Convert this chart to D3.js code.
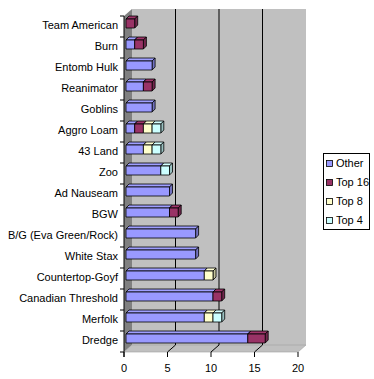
<!DOCTYPE html>
<html>
<head>
<meta charset="utf-8">
<script src="https://cdn.jsdelivr.net/npm/d3@7"></script>
<style>
  body { margin: 0; background: #fff; }
  svg text { font-family: "Liberation Sans", Arial, sans-serif; font-size: 11px; fill: #000; }
</style>
</head>
<body>
<div id="chart"></div>
<script>
// categories top to bottom
var categories = ["Team American", "Burn", "Entomb Hulk", "Reanimator", "Goblins", "Aggro Loam",
    "43 Land", "Zoo", "Ad Nauseam", "BGW", "B/G (Eva Green/Rock)", "White Stax",
    "Countertop-Goyf", "Canadian Threshold", "Merfolk", "Dredge"];
var seriesNames = ["Other", "Top 16", "Top 8", "Top 4"];
var otherVals = [0, 1, 3, 2, 3, 1, 2, 4, 5, 5, 8, 8, 9, 10, 9, 14];
var top16Vals = [1, 1, 0, 1, 0, 1, 0, 0, 0, 1, 0, 0, 0, 1, 0, 2];
var top8Vals  = [0, 0, 0, 0, 0, 1, 1, 0, 0, 0, 0, 0, 1, 0, 1, 0];
var top4Vals  = [0, 0, 0, 0, 0, 1, 1, 1, 0, 0, 0, 0, 0, 0, 1, 0];
var xTicks = [0, 5, 10, 15, 20];
var colors = ["#9999ff", "#993366", "#ffffcc", "#ccffff"];

var width = 374, height = 379;
var DX = 8, DY = -7;          // wall depth
var BX = 2, BY = -3, BD = 3;  // bar position inside depth, bar depth

var svg = d3.select("#chart").append("svg")
    .attr("width", width).attr("height", height);

var x = d3.scaleLinear().domain([0, 20]).range([124, 298]);
var y = d3.scaleBand().domain(categories).range([16, 352]).padding(0);

var rows = categories.map(function (c, i) {
    return { cat: c, Other: otherVals[i], "Top 16": top16Vals[i], "Top 8": top8Vals[i], "Top 4": top4Vals[i] };
});
var stacked = d3.stack().keys(seriesNames)(rows);

function poly(pts) { return "M" + pts.map(function (p) { return p.join(","); }).join("L") + "Z"; }

var y0 = y.range()[0], y1 = y.range()[1];
var xa = x(0), xb = x(20);

// back wall
svg.append("path")
    .attr("d", poly([[xa + DX, y0 + DY], [xb + DX, y0 + DY], [xb + DX, y1 + DY], [xa + DX, y1 + DY]]))
    .attr("fill", "#c0c0c0");
// side wall
svg.append("path")
    .attr("d", poly([[xa, y0], [xa + DX, y0 + DY], [xa + DX, y1 + DY], [xa, y1]]))
    .attr("fill", "#808080");
// floor
svg.append("path")
    .attr("d", poly([[xa, y1], [xa + DX, y1 + DY], [xb + DX, y1 + DY], [xb, y1]]))
    .attr("fill", "#c0c0c0")
    .attr("stroke", "#a0a0a0").attr("stroke-width", 0.6);

// gridlines
var grid = svg.append("g");
xTicks.filter(function (d) { return d > 0 && d < 20; }).forEach(function (d) {
    grid.append("path")
        .attr("d", "M" + (x(d) + DX) + "," + (y0 + DY) + "V" + (y1 + DY) + "L" + x(d) + "," + y1)
        .attr("fill", "none").attr("stroke", "#000").attr("stroke-width", 1);
});

// left axis
var ax = svg.append("g");
ax.append("line").attr("x1", xa).attr("x2", xa).attr("y1", y0).attr("y2", y1 + 5)
    .attr("stroke", "#000");
ax.selectAll(".ytick").data(d3.range(categories.length + 1)).enter().append("line")
    .attr("x1", xa - 4).attr("x2", xa)
    .attr("y1", function (i) { return y0 + i * y.bandwidth(); })
    .attr("y2", function (i) { return y0 + i * y.bandwidth(); })
    .attr("stroke", "#000");
ax.selectAll(".ylab").data(categories).enter().append("text")
    .attr("x", 118)
    .attr("y", function (d) { return y(d) + y.bandwidth() / 2 - 1; })
    .attr("dy", "0.35em")
    .attr("text-anchor", "end")
    .text(function (d) { return d; });

// bottom axis
ax.selectAll(".xtick").data(xTicks).enter().append("line")
    .attr("x1", function (d) { return x(d); }).attr("x2", function (d) { return x(d); })
    .attr("y1", y1).attr("y2", y1 + 5)
    .attr("stroke", "#000");
ax.selectAll(".xlab").data(xTicks).enter().append("text")
    .attr("x", function (d) { return x(d); })
    .attr("y", 368)
    .attr("dy", "0.35em")
    .attr("text-anchor", "middle")
    .text(function (d) { return d; });

// bars
var barH = 9;
var bars = svg.append("g");
rows.forEach(function (r, i) {
    var cy = y(r.cat) + y.bandwidth() / 2 + BY;
    var top = cy - barH / 2, bot = cy + barH / 2;
    stacked.forEach(function (s, k) {
        var seg = s[i];
        if (seg[1] - seg[0] <= 0) return;
        var l = x(seg[0]) + BX, rr = x(seg[1]) + BX;
        var c = d3.color(colors[k]);
        var g = bars.append("g").attr("stroke", "#000").attr("stroke-width", 0.8)
            .attr("stroke-linejoin", "round");
        g.append("path").attr("d", poly([[l, top], [l + BD, top - BD], [rr + BD, top - BD], [rr, top]]))
            .attr("fill", c.brighter(0.1));
        g.append("path").attr("d", poly([[rr, top], [rr + BD, top - BD], [rr + BD, bot - BD], [rr, bot]]))
            .attr("fill", c.darker(0.8));
        g.append("rect").attr("x", l).attr("y", top).attr("width", rr - l).attr("height", barH)
            .attr("fill", colors[k]);
    });
});

// legend
var lg = svg.append("g");
lg.append("rect").attr("x", 323.5).attr("y", 153.5).attr("width", 46).attr("height", 76)
    .attr("fill", "#fff").attr("stroke", "#000");
var items = lg.selectAll(".item").data(seriesNames).enter().append("g")
    .attr("transform", function (d, i) { return "translate(0," + (163.5 + i * 19) + ")"; });
items.append("rect").attr("x", 326.5).attr("y", -3).attr("width", 6).attr("height", 6)
    .attr("fill", function (d, i) { return colors[i]; })
    .attr("stroke", "#000").attr("stroke-width", 0.8);
items.append("text").attr("x", 336).attr("y", 0).attr("dy", "0.35em")
    .text(function (d) { return d; });
</script>
</body>
</html>
